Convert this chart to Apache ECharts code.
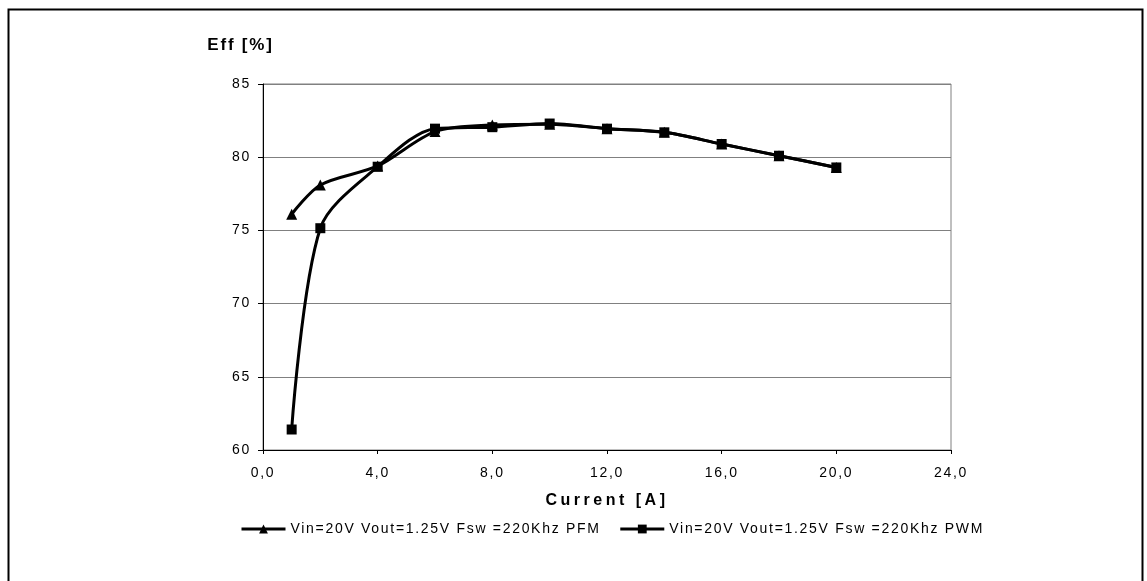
<!DOCTYPE html>
<html>
<head>
<meta charset="utf-8">
<script src="https://cdn.jsdelivr.net/npm/echarts@6/dist/echarts.min.js"></script>
<style>
html,body{margin:0;padding:0;background:#fff;}
#chart{width:1147px;height:581px;}
</style>
</head>
<body>
<div id="chart"></div>
<script>
// Data
const currentA = [1, 2, 4, 6, 8, 10, 12, 14, 16, 18, 20];
const effPFM = [76.1, 78.1, 79.4, 81.75, 82.2, 82.25, 81.95, 81.7, 80.9, 80.1, 79.3];
const effPWM = [61.4, 75.15, 79.35, 81.95, 82.05, 82.3, 81.95, 81.7, 80.9, 80.1, 79.3];
const seriesNames = [
  'Vin=20V Vout=1.25V Fsw =220Khz PFM',
  'Vin=20V Vout=1.25V Fsw =220Khz PWM'
];
const xTitle = 'Current [A]';
const yTitle = 'Eff [%]';

// The original (Excel) text is drawn with wide letter spacing; emulate it natively in canvas.
(function () {
  const proto = CanvasRenderingContext2D.prototype;
  const orig = proto.fillText;
  proto.fillText = function (t, x, y, w) {
    if ('letterSpacing' in this) {
      const f = this.font || '';
      if (f.indexOf('bold') >= 0) {
        this.letterSpacing = f.indexOf('17px') >= 0 ? '1.8px' : '3.5px';
      } else {
        this.letterSpacing = '1.7px';
      }
    }
    return w === undefined ? orig.call(this, t, x, y) : orig.call(this, t, x, y, w);
  };
})();

const pairs = (xs, ys) => xs.map((x, i) => [x, ys[i]]);
const font = '"Liberation Sans", Arial, sans-serif';

const chart = echarts.init(document.getElementById('chart'), null, {renderer: 'canvas'});
chart.setOption({
  animation: false,
  backgroundColor: '#ffffff',
  graphic: [{
    type: 'rect',
    left: 6, top: 7,
    shape: {width: 1134, height: 600},
    style: {fill: 'none', stroke: '#000', lineWidth: 2},
    silent: true
  }],
  grid: {left: 263, top: 84, right: 196, bottom: 131, show: true, borderColor: '#808080', borderWidth: 1},
  xAxis: {
    type: 'value', min: 0, max: 24, interval: 4,
    name: xTitle, nameLocation: 'middle', nameGap: 43,
    nameTextStyle: {fontFamily: font, fontSize: 16, fontWeight: 'bold', color: '#000'},
    axisLine: {show: true, lineStyle: {color: '#000', width: 1}},
    axisTick: {show: true, length: 4, lineStyle: {color: '#000'}},
    axisLabel: {fontFamily: font, fontSize: 14, color: '#000', margin: 16,
      formatter: v => v.toFixed(1).replace('.', ',')},
    splitLine: {show: false}
  },
  yAxis: {
    type: 'value', min: 60, max: 85, interval: 5,
    name: yTitle, nameLocation: 'end', nameGap: 30,
    nameTextStyle: {fontFamily: font, fontSize: 17, fontWeight: 'bold', color: '#000', padding: [0, 45, 0, 0]},
    axisLine: {show: true, lineStyle: {color: '#000', width: 1}},
    axisTick: {show: true, length: 5, lineStyle: {color: '#000'}},
    axisLabel: {fontFamily: font, fontSize: 14, color: '#000', margin: 12},
    splitLine: {show: true, lineStyle: {color: '#808080', width: 1}}
  },
  legend: {
    top: 517, left: 235,
    itemWidth: 44, itemHeight: 11, itemGap: 76,
    lineStyle: {width: 3, color: '#000'},
    textStyle: {fontFamily: font, fontSize: 14, color: '#000'},
    data: seriesNames
  },
  series: [
    {
      name: seriesNames[0], type: 'line', data: pairs(currentA, effPFM),
      smooth: 0.3, symbol: 'triangle', symbolSize: 11,
      lineStyle: {color: '#000', width: 3}, itemStyle: {color: '#000'}
    },
    {
      name: seriesNames[1], type: 'line', data: pairs(currentA, effPWM),
      smooth: 0.3, symbol: 'rect', symbolSize: 10,
      lineStyle: {color: '#000', width: 3}, itemStyle: {color: '#000'}
    }
  ]
});
</script>
</body>
</html>
